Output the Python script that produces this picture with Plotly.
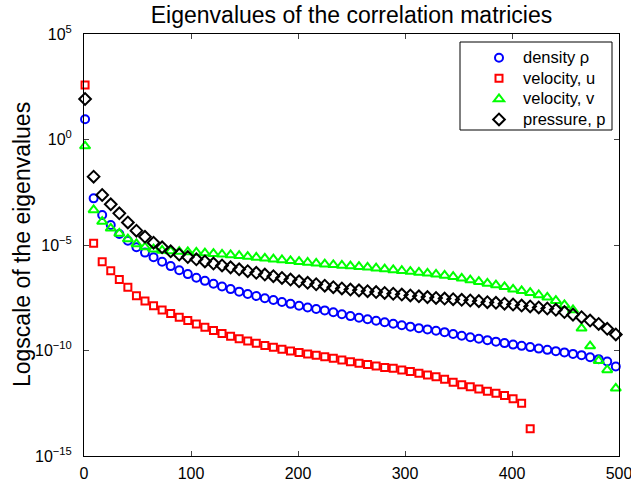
import plotly.graph_objects as go

# eigenvalue index (every 8th eigenvalue is marked)
idx_full = list(range(1, 498, 8))      # 63 points: 1..497
idx_u = list(range(1, 418, 8))         # 53 points: 1..417

# log10 of the eigenvalues
log_rho = [0.96, -2.79, -3.58, -4.05, -4.48, -4.80, -5.11, -5.36, -5.58, -5.79,
           -6.00, -6.20, -6.38, -6.55, -6.70, -6.84, -6.97, -7.09, -7.21, -7.32,
           -7.42, -7.52, -7.61, -7.70, -7.79, -7.88, -7.96, -8.03, -8.10, -8.19,
           -8.28, -8.37, -8.45, -8.52, -8.59, -8.66, -8.73, -8.80, -8.87, -8.94,
           -9.00, -9.06, -9.13, -9.22, -9.30, -9.37, -9.44, -9.51, -9.58, -9.65,
           -9.72, -9.78, -9.84, -9.91, -9.97, -10.03, -10.09, -10.16, -10.22, -10.32,
           -10.41, -10.52, -10.76]

log_u = [2.58, -4.92, -5.79, -6.22, -6.63, -7.00, -7.40, -7.65, -7.88, -8.08,
         -8.25, -8.42, -8.58, -8.74, -8.90, -9.05, -9.19, -9.32, -9.44, -9.55,
         -9.66, -9.76, -9.85, -9.94, -10.02, -10.09, -10.16, -10.23, -10.30, -10.37,
         -10.45, -10.53, -10.61, -10.66, -10.73, -10.80, -10.84, -10.92, -11.00, -11.08,
         -11.16, -11.24, -11.36, -11.50, -11.62, -11.72, -11.82, -11.93, -12.03, -12.13,
         -12.29, -12.50, -13.71]

log_v = [-0.31, -3.34, -3.89, -4.21, -4.45, -4.72, -4.95, -5.10, -5.20, -5.26,
         -5.29, -5.31, -5.33, -5.35, -5.38, -5.41, -5.44, -5.47, -5.51, -5.55,
         -5.59, -5.63, -5.67, -5.71, -5.75, -5.79, -5.83, -5.87, -5.91, -5.94,
         -5.97, -6.00, -6.03, -6.06, -6.10, -6.14, -6.18, -6.22, -6.26, -6.30,
         -6.34, -6.39, -6.44, -6.50, -6.58, -6.66, -6.74, -6.82, -6.90, -6.98,
         -7.10, -7.17, -7.26, -7.37, -7.48, -7.64, -7.84, -8.08, -8.95, -9.79,
         -10.48, -10.92, -11.79]

log_p = [1.92, -1.76, -2.63, -3.07, -3.50, -3.93, -4.32, -4.61, -4.89, -5.11,
         -5.30, -5.45, -5.57, -5.68, -5.78, -5.88, -5.97, -6.06, -6.15, -6.24,
         -6.32, -6.40, -6.48, -6.56, -6.64, -6.72, -6.79, -6.86, -6.93, -7.00,
         -7.06, -7.11, -7.15, -7.19, -7.23, -7.27, -7.31, -7.35, -7.39, -7.43,
         -7.47, -7.51, -7.54, -7.57, -7.60, -7.63, -7.66, -7.71, -7.74, -7.78,
         -7.82, -7.87, -7.91, -7.96, -8.01, -8.07, -8.18, -8.30, -8.42, -8.58,
         -8.74, -8.97, -9.24]

y_tickvals = [1e5, 1e0, 1e-5, 1e-10, 1e-15]
y_ticktext = ["10<sup>5</sup>", "10<sup>0</sup>", "10<sup>\u22125</sup>",
              "10<sup>\u221210</sup>", "10<sup>\u221215</sup>"]
x_tickvals = [0, 100, 200, 300, 400, 500]

series = [
    ("density \u03c1", idx_full, log_rho, "circle-open", "#0000ff", 8),
    ("velocity, u", idx_u, log_u, "square-open", "#ff0000", 7),
    ("velocity, v", idx_full, log_v, "triangle-up-open", "#00ff00", 9),
    ("pressure, p", idx_full, log_p, "diamond-open", "#000000", 9),
]

fig = go.Figure()
for name, xs, ls, sym, col, sz in series:
    fig.add_trace(go.Scatter(
        x=xs, y=[10 ** v for v in ls], mode="markers", cliponaxis=False,
        name='<span style="font-size:16.5px">%s</span>' % name,
        marker=dict(symbol=sym, size=sz, color=col, line=dict(color=col, width=2)),
    ))

font_family = "Liberation Sans, Arial, sans-serif"
L, R, T, B = 84, 12, 34, 29
W, H = 631, 485
pw, ph = W - L - R, H - T - B


def px_x(p):
    return (p - L) / pw


def px_y(p):
    return (H - B - p) / ph


fig.update_layout(
    width=W, height=H,
    margin=dict(l=L, r=R, t=T, b=B, autoexpand=False),
    paper_bgcolor="white", plot_bgcolor="white",
    font=dict(family=font_family, size=16, color="black"),
    title=dict(text="Eigenvalues of the correlation matricies", x=0.5, xref="paper",
               xanchor="center", y=1 - 15 / H, yanchor="middle", font=dict(size=23)),
    showlegend=True,
    legend=dict(x=px_x(475), y=px_y(42.5), xanchor="left", yanchor="top",
                bgcolor="rgba(0,0,0,0)", borderwidth=0,
                font=dict(size=13.5), itemwidth=38, tracegroupgap=0),
    shapes=[dict(type="rect", xref="paper", yref="paper",
                 x0=px_x(460), x1=px_x(612), y0=px_y(130), y1=px_y(42),
                 line=dict(color="black", width=1), fillcolor="white", layer="below")],
    annotations=[dict(text="Logscale of the eigenvalues", xref="paper", yref="paper",
                      x=px_x(22), y=0.5, xanchor="center", yanchor="middle",
                      textangle=-90, showarrow=False, font=dict(size=23))],
    xaxis=dict(range=[0, 500], tickvals=x_tickvals, ticks="inside", ticklen=5,
               showline=True, linecolor="black", linewidth=1, mirror="ticks",
               showgrid=False, zeroline=False, tickfont=dict(size=16),
               automargin=False, ticklabelstandoff=3, ticklabeloverflow="allow"),
    yaxis=dict(type="log", range=[-15, 5], tickvals=y_tickvals, ticktext=y_ticktext,
               ticks="inside", ticklen=5, showline=True, linecolor="black", linewidth=1,
               mirror="ticks", showgrid=False, zeroline=False, tickfont=dict(size=16),
               automargin=False, ticklabelstandoff=8, ticklabeloverflow="allow"),
)

fig.write_html("out.html")
